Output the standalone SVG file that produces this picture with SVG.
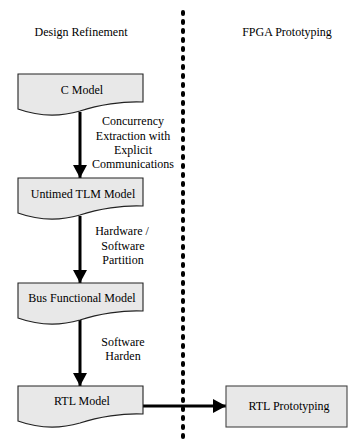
<svg xmlns="http://www.w3.org/2000/svg" width="348" height="443" viewBox="0 0 348 443" font-family="'Liberation Serif', Tinos, 'Times New Roman', 'DejaVu Serif', serif">
<style>
text{font-family:'Liberation Serif',Tinos,'Times New Roman','DejaVu Serif',serif;font-size:12px;fill:#000;text-anchor:middle}
.doc{fill:#e8e8e8;stroke:#222;stroke-width:1.1}
.box{fill:#e8e8e8;stroke:#444;stroke-width:1.1}
.conn{stroke:#000;stroke-width:3;fill:none}
.div{stroke:#000;stroke-width:4;stroke-dasharray:2 7;stroke-linecap:round;fill:none}
</style>
<defs>
<path id="docshape" d="M0,0 H125 V28 C105,27 80,31 62,37 C45,42 25,44 0,35 Z"/>
<marker id="ah" markerWidth="13" markerHeight="14" refX="13" refY="7" orient="auto" markerUnits="userSpaceOnUse"><path d="M0,0 L13,7 L0,14 Z" fill="#000"/></marker>
</defs>
<text x="81" y="36">Design Refinement</text>
<text x="287" y="36">FPGA Prototyping</text>
<line class="div" x1="183" y1="12" x2="183" y2="443"/>
<g id="connectors">
<line class="conn" x1="80" y1="112" x2="80" y2="178" marker-end="url(#ah)"/>
<line class="conn" x1="80" y1="216" x2="80" y2="283" marker-end="url(#ah)"/>
<line class="conn" x1="80" y1="320" x2="80" y2="386" marker-end="url(#ah)"/>
<line class="conn" x1="143" y1="406" x2="226" y2="406" marker-end="url(#ah)"/>
<text x="133" y="125">Concurrency</text>
<text x="133" y="140">Extraction with</text>
<text x="133" y="154">Explicit</text>
<text x="133" y="168">Communications</text>
<text x="122" y="235">Hardware /</text>
<text x="123" y="250">Software</text>
<text x="123" y="264">Partition</text>
<text x="123" y="346">Software</text>
<text x="123" y="360">Harden</text>
</g>
<g id="c-model"><use href="#docshape" class="doc" x="18" y="74"/><text x="82" y="94">C Model</text></g>
<g id="untimed-tlm"><use href="#docshape" class="doc" x="18" y="178"/><text x="83" y="198">Untimed TLM Model</text></g>
<g id="bus-functional"><use href="#docshape" class="doc" x="18" y="283"/><text x="82" y="302">Bus Functional Model</text></g>
<g id="rtl-model"><use href="#docshape" class="doc" x="18" y="386"/><text x="82" y="405">RTL Model</text></g>
<g id="rtl-prototyping"><rect class="box" x="226" y="386" width="121" height="41"/><text x="289" y="410">RTL Prototyping</text></g>
</svg>
